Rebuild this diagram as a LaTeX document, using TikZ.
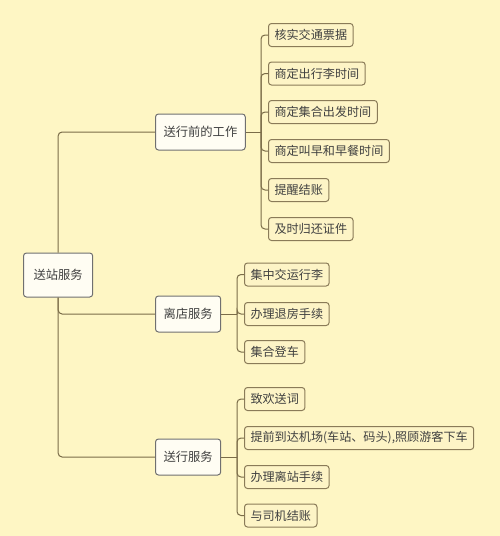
\documentclass[tikz,border=0pt]{standalone}
\usepackage{fontspec}
\setmainfont{Noto Sans CJK SC}
\begin{document}
\begin{tikzpicture}[x=1pt,y=-1pt,
  line/.style={draw=linec,line width=1pt,rounded corners=4pt},
  rootbox/.style={draw=rootc,line width=1pt,fill=white!80!bg,rounded corners=3pt,anchor=west,minimum height=44pt,inner xsep=10pt,font=\fontsize{12.3}{14}\selectfont,text=txt},
  midbox/.style={draw=rootc,line width=1pt,fill=white!80!bg,rounded corners=3pt,anchor=west,minimum height=36pt,inner xsep=8pt,font=\fontsize{12.3}{14}\selectfont,text=txt},
  leafbox/.style={draw=leafc,line width=1pt,fill=leaff,rounded corners=3pt,anchor=west,minimum height=23pt,inner xsep=6pt,font=\fontsize{12.1}{14}\selectfont,text=txt}]
\definecolor{bg}{HTML}{FEF6C4}
\definecolor{leaff}{HTML}{FDF4C6}
\definecolor{linec}{HTML}{7A6C48}
\definecolor{leafc}{HTML}{8A7B58}
\definecolor{rootc}{HTML}{707070}
\definecolor{txt}{HTML}{404040}
\fill[bg] (0,0) rectangle (500,536);
\useasboundingbox (0,0) rectangle (500,536);

\node[rootbox] (root) at (23,275) {送站服务};
\node[midbox] (m1) at (155,132) {送行前的工作};
\node[midbox] (m2) at (155,314) {离店服务};
\node[midbox] (m3) at (155,457) {送行服务};

\node[leafbox] (a1) at (268,35) {核实交通票据};
\node[leafbox] (a2) at (268,73.5) {商定出行李时间};
\node[leafbox] (a3) at (268,112) {商定集合出发时间};
\node[leafbox] (a4) at (268,151) {商定叫早和早餐时间};
\node[leafbox] (a5) at (268,190) {提醒结账};
\node[leafbox] (a6) at (268,229) {及时归还证件};

\node[leafbox] (b1) at (244,274.5) {集中交运行李};
\node[leafbox] (b2) at (244,314) {办理退房手续};
\node[leafbox] (b3) at (244,352) {集合登车};

\node[leafbox] (c1) at (244,399) {致欢送词};
\node[leafbox] (c2) at (244,438) {提前到达机场(车站、码头),照顾游客下车};
\node[leafbox] (c3) at (244,477) {办理离站手续};
\node[leafbox] (c4) at (244,515.5) {与司机结账};

\coordinate (t1) at (261,132);
\coordinate (t2) at (237,314);
\coordinate (t3) at (237,457);

\draw[line] (root.north) |- (m1.west);
\draw[line] (root.south) |- (m2.west);
\draw[line] (root.south) |- (m3.west);

\draw[line] (m1.east) -- (t1);
\foreach \n in {a1,a2,a3,a4,a5,a6} \draw[line] (t1) |- (\n.west);
\draw[line] (m2.east) -- (t2);
\foreach \n in {b1,b2,b3} \draw[line] (t2) |- (\n.west);
\draw[line] (m3.east) -- (t3);
\foreach \n in {c1,c2,c3,c4} \draw[line] (t3) |- (\n.west);
\end{tikzpicture}
\end{document}
